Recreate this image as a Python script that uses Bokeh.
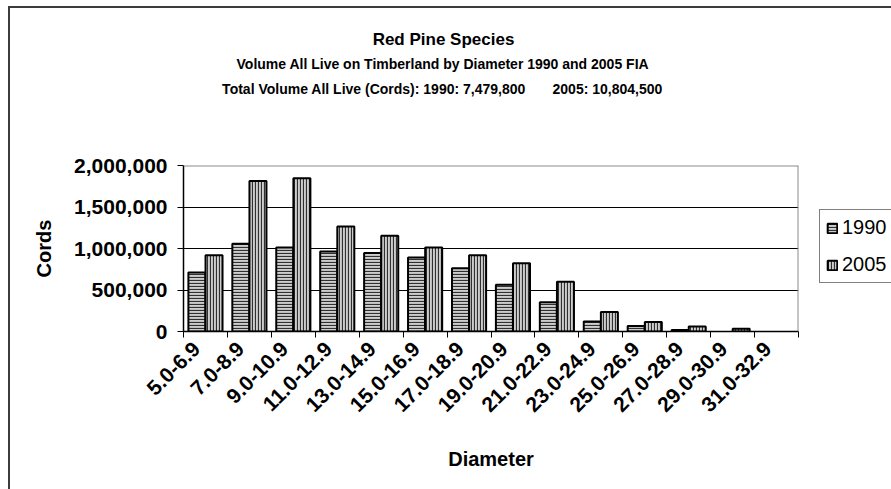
import math

from bokeh.embed import file_html
from bokeh.models import FixedTicker, Legend, NumeralTickFormatter, Range1d, Span, Title
from bokeh.plotting import figure
from bokeh.resources import INLINE

# Diameter classes (inches) and volume of all live red pine on timberland (cords)
diameter_classes = [
    "5.0-6.9", "7.0-8.9", "9.0-10.9", "11.0-12.9", "13.0-14.9", "15.0-16.9",
    "17.0-18.9", "19.0-20.9", "21.0-22.9", "23.0-24.9", "25.0-26.9",
    "27.0-28.9", "29.0-30.9", "31.0-32.9",
]
cords_1990 = [711000, 1057000, 1013000, 965000, 945000, 892000, 763000,
              562000, 351000, 121000, 65000, 17000, 0, 0]
cords_2005 = [919000, 1812000, 1845000, 1264000, 1155000, 1013000, 920000,
              823000, 598000, 235000, 114000, 61000, 33000, 0]
y_ticks = [0, 500000, 1000000, 1500000, 2000000]

GAP = "\u00a0" * 6
title_lines = [
    "Red Pine Species",
    "Volume All Live on Timberland by Diameter 1990 and 2005 FIA",
    "Total Volume All Live (Cords): 1990: 7,479,800" + GAP + " 2005: 10,804,500",
]
title_sizes = [17, 14, 14]

FONT = "Liberation Sans"

# advance widths of Liberation Sans Bold (units per em = 1000), used to centre
# the left-anchored title lines on the chart area
BOLD_W = {" ": 278, "\u00a0": 278, "(": 333, ")": 333, ",": 278, "-": 333,
          ".": 278, ":": 333, "A": 722, "C": 722, "D": 722, "F": 611,
          "I": 278, "L": 611, "P": 667, "R": 722, "S": 667, "T": 611,
          "V": 667, "a": 556, "b": 611, "c": 556, "d": 611, "e": 556,
          "i": 278, "l": 278, "m": 889, "n": 611, "o": 611, "p": 611,
          "r": 389, "s": 556, "t": 333, "u": 611, "v": 556, "y": 556}


def text_width(text, size):
    return sum(BOLD_W.get(ch, 556) for ch in text) * size / 1000.0


# page geometry in pixels
PAGE_W, PAGE_H = 891, 489
ORIGIN_X, ORIGIN_Y = 10, 8          # top-left of the chart canvas on the page
FRAME_L, FRAME_R = 183, 798         # plot area on the page
FRAME_T, FRAME_B = 165, 331
TITLE_CX = 443                      # horizontal centre of the chart area

n = len(diameter_classes)
p = figure(
    frame_width=FRAME_R - FRAME_L,
    frame_height=FRAME_B - FRAME_T,
    min_border_left=FRAME_L - ORIGIN_X,
    min_border_right=PAGE_W - FRAME_R,
    min_border_top=FRAME_T - ORIGIN_Y,
    min_border_bottom=PAGE_H - FRAME_B,
    x_range=Range1d(-0.5, n - 0.5),
    y_range=Range1d(0, 2000000),
    output_backend="svg",
    toolbar_location=None,
    background_fill_color="white",
    border_fill_color="white",
)
p.styles = {
    "margin-left": "8px",
    "margin-top": "6px",
    "border-left": "2px solid #3c3c3c",
    "border-top": "2px solid #3c3c3c",
}
p.outline_line_color = None

# ---- title block: spacer nearest the frame, then lines from bottom to top ----
p.add_layout(Title(text="\u00a0", text_font_size="1px", standoff=61), "above")
standoffs = [3, 7, 7]
for text, size, so in reversed(list(zip(title_lines, title_sizes, standoffs))):
    p.add_layout(Title(
        text=text, align="left", vertical_align="middle",
        offset=TITLE_CX - text_width(text, size) / 2 - FRAME_L,
        standoff=so, text_font=FONT, text_font_style="bold",
        text_font_size=f"{size}px", text_color="black",
    ), "above")

# ---- bars ----------------------------------------------------------------
half = 0.195
bar_w = 0.387
common = dict(width=bar_w, bottom=0, line_color="black", line_width=2,
              fill_color="#cdcdcd", hatch_color="#303030", hatch_scale=3,
              hatch_weight=1.2)
idx90 = [i for i in range(n) if cords_1990[i] > 0]
idx05 = [i for i in range(n) if cords_2005[i] > 0]
r1990 = p.vbar(x=[i - half for i in idx90], top=[cords_1990[i] for i in idx90],
               hatch_pattern="horizontal_line", **common)
r2005 = p.vbar(x=[i + half for i in idx05], top=[cords_2005[i] for i in idx05],
               hatch_pattern="vertical_line", **common)

# grid and plot-area edges
p.xgrid.visible = False
p.ygrid.ticker = FixedTicker(ticks=y_ticks[1:-1])
p.ygrid.grid_line_color = "black"
p.ygrid.grid_line_width = 1
p.add_layout(Span(location=2000000, dimension="width", line_color="#8c8c8c", line_width=2))
p.add_layout(Span(location=n - 0.5, dimension="height", line_color="#8c8c8c", line_width=2))

# x axis: slanted labels ending just left of each class centre,
# tick marks on the class boundaries
LABEL_SHIFT = 0.2
label_pos = [i - LABEL_SHIFT for i in range(n)]
xa = p.xaxis[0]
xa.ticker = FixedTicker(ticks=label_pos, minor_ticks=[i - 0.5 for i in range(n + 1)])
xa.major_label_overrides = dict(zip(label_pos, diameter_classes))
xa.major_label_orientation = math.pi / 4
xa.major_tick_line_color = None
xa.minor_tick_line_color = "black"
xa.minor_tick_in = 0
xa.minor_tick_out = 6
xa.axis_line_color = "black"
xa.axis_line_width = 1.5
xa.major_label_text_font = FONT
xa.major_label_text_font_style = "bold"
xa.major_label_text_font_size = "21px"
xa.major_label_text_color = "black"
xa.major_label_standoff = 8
xa.axis_label = "Diameter"
xa.axis_label_text_font = FONT
xa.axis_label_text_font_style = "bold"
xa.axis_label_text_font_size = "20px"
xa.axis_label_text_color = "black"
xa.axis_label_standoff = 27

ya = p.yaxis[0]
ya.ticker = FixedTicker(ticks=y_ticks)
ya.formatter = NumeralTickFormatter(format="0,0")
ya.minor_tick_line_color = None
ya.major_tick_in = 0
ya.major_tick_out = 6
ya.major_tick_line_color = "black"
ya.axis_line_color = "black"
ya.axis_line_width = 1.5
ya.major_label_text_font = FONT
ya.major_label_text_font_style = "bold"
ya.major_label_text_font_size = "21px"
ya.major_label_text_color = "black"
ya.major_label_standoff = 10
ya.axis_label = "Cords"
ya.axis_label_text_font = FONT
ya.axis_label_text_font_style = "bold"
ya.axis_label_text_font_size = "20px"
ya.axis_label_text_color = "black"
ya.axis_label_standoff = 16

legend = Legend(
    items=[("1990", [r1990]), ("2005", [r2005])],
    location=(819 - FRAME_R, FRAME_B - 283),
    orientation="vertical",
    border_line_color="black", border_line_width=1,
    background_fill_color="white", background_fill_alpha=1.0,
    padding=6, spacing=14, margin=0,
    glyph_width=12, glyph_height=12, label_height=20, label_standoff=4,
    label_text_font=FONT, label_text_font_size="20px", label_text_color="black",
)
p.add_layout(legend, "right")

open("out.html", "w").write(file_html(p, INLINE))
